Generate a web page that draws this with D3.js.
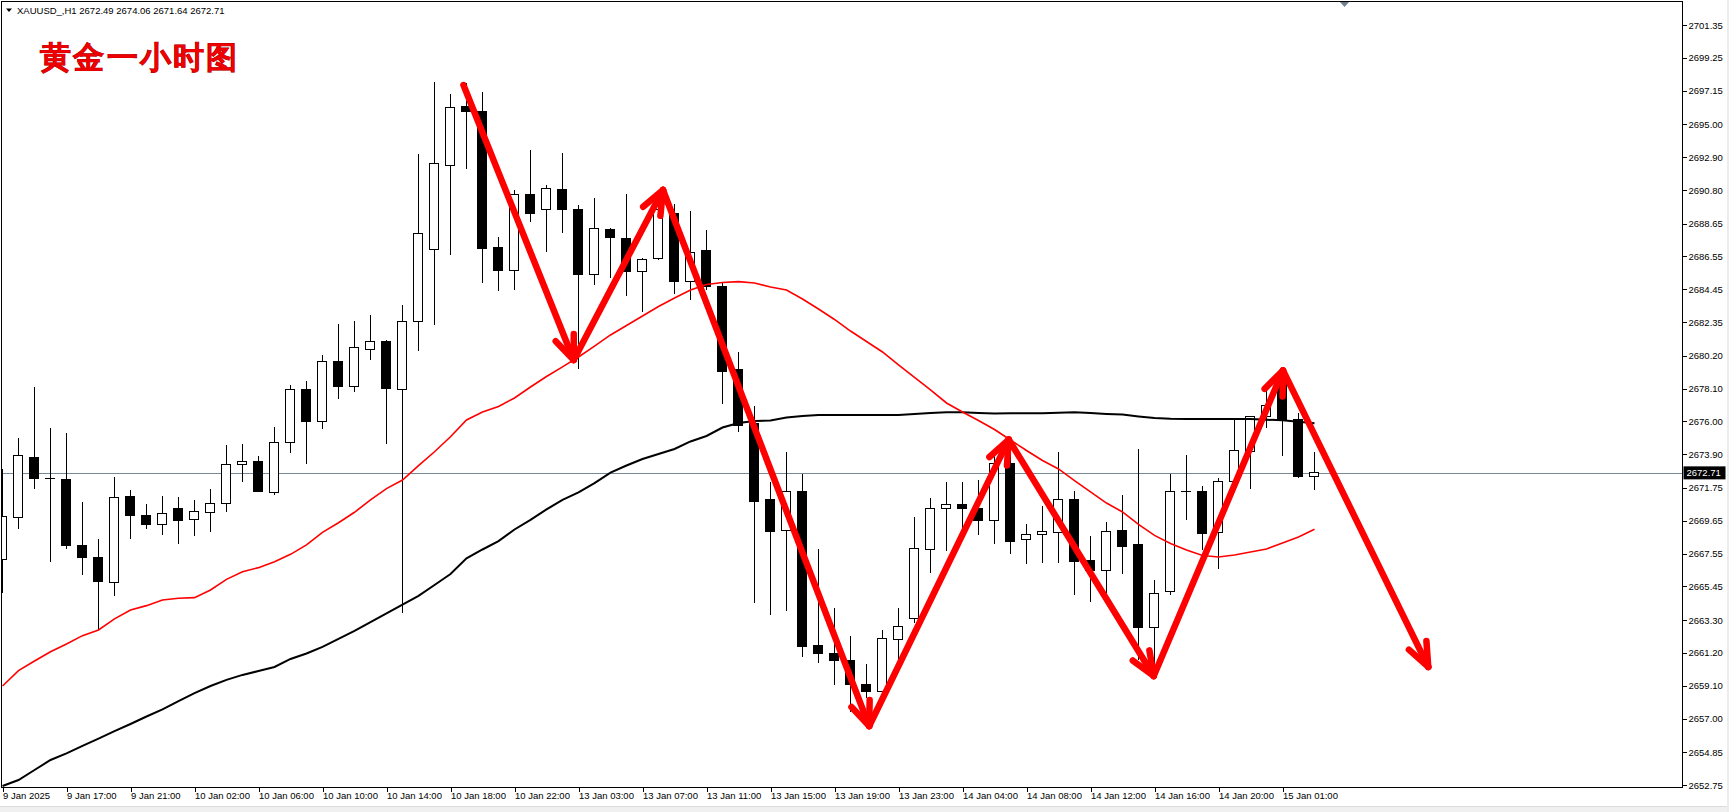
<!DOCTYPE html>
<html><head><meta charset="utf-8">
<script src="https://cdn.jsdelivr.net/npm/d3@7"></script>
<style>
html,body{margin:0;padding:0;background:#fff;overflow:hidden}
svg{display:block}
text{font-family:"Liberation Sans",Arial,sans-serif}
</style></head><body>
<svg id="c" width="1729" height="812"></svg>
<script>
// ---- data (XAUUSD H1, bars indexed 0..82) ----
const open=[2667.18,2669.87,2673.70,2672.35,2672.30,2668.08,2667.31,2665.71,2671.21,2669.99,
2669.40,2670.44,2669.74,2670.19,2670.76,2673.26,2673.45,2671.44,2674.66,2678.01,
2676.01,2679.80,2678.22,2680.61,2681.14,2678.05,2682.40,2687.01,2692.38,2696.17,
2695.85,2687.13,2685.64,2690.52,2689.57,2690.86,2689.58,2685.41,2688.29,2687.71,
2685.60,2686.43,2689.31,2684.96,2686.90,2684.62,2679.29,2675.88,2670.98,2669.01,
2671.55,2661.64,2661.17,2660.74,2659.15,2658.72,2662.07,2663.41,2667.82,2670.44,
2670.70,2670.44,2669.65,2673.32,2668.42,2668.78,2668.88,2670.98,2667.08,2666.46,
2669.04,2668.10,2662.84,2665.14,2671.53,2671.53,2668.91,2672.17,2674.09,2676.30,
2678.44,2676.14,2672.49];
const high=[2672.94,2674.94,2678.18,2675.58,2675.24,2670.85,2668.48,2672.45,2671.62,2670.72,
2671.23,2671.17,2670.98,2671.68,2674.49,2674.56,2673.79,2675.67,2678.33,2678.59,
2680.25,2682.23,2682.42,2682.81,2681.21,2683.45,2693.08,2697.72,2696.94,2697.66,
2697.07,2687.77,2690.80,2693.36,2691.10,2693.17,2689.84,2690.29,2688.35,2690.54,
2686.43,2689.97,2689.90,2689.46,2688.24,2684.83,2680.42,2676.99,2672.15,2674.06,
2672.64,2667.84,2664.05,2662.28,2660.49,2662.66,2664.05,2669.91,2671.08,2672.11,
2672.11,2672.26,2674.06,2674.17,2669.44,2670.59,2674.06,2671.57,2668.67,2669.59,
2671.29,2674.24,2665.86,2672.62,2673.85,2671.87,2672.36,2676.14,2676.30,2678.01,
2679.29,2676.54,2674.06];
const low=[2665.01,2669.14,2671.70,2667.03,2667.82,2666.20,2662.66,2664.86,2668.50,2669.14,
2668.76,2668.16,2668.67,2668.93,2670.23,2672.15,2671.51,2671.30,2674.00,2673.30,
2675.54,2677.46,2677.90,2679.93,2674.56,2663.73,2680.52,2682.17,2686.64,2692.16,
2684.87,2684.36,2684.40,2688.77,2686.85,2688.07,2679.33,2684.71,2685.15,2684.04,
2683.02,2686.32,2684.15,2683.77,2684.40,2677.11,2675.34,2664.37,2663.62,2663.90,
2660.92,2660.57,2659.15,2657.44,2658.30,2658.70,2660.74,2663.09,2666.33,2667.71,
2669.06,2668.74,2668.16,2667.52,2666.88,2666.97,2666.97,2664.90,2664.47,2665.01,
2666.24,2660.74,2660.11,2664.90,2669.70,2667.78,2666.56,2672.15,2671.66,2675.60,
2673.79,2672.36,2671.64];
const close=[2669.91,2673.83,2672.34,2672.30,2668.06,2667.31,2665.75,2671.15,2669.97,2669.40,
2670.12,2669.65,2670.25,2670.76,2673.26,2673.43,2671.51,2674.66,2678.05,2675.98,
2679.84,2678.22,2680.74,2681.12,2678.10,2682.40,2688.03,2692.51,2696.09,2695.81,
2687.05,2685.64,2690.52,2689.28,2690.91,2689.54,2685.38,2688.35,2687.77,2685.57,
2686.37,2689.52,2684.94,2686.82,2684.62,2679.18,2675.73,2670.87,2668.95,2671.55,
2661.60,2661.17,2660.70,2659.15,2658.72,2662.13,2662.87,2667.89,2670.44,2670.66,
2670.42,2669.65,2673.32,2668.31,2668.78,2668.95,2670.98,2667.03,2666.46,2668.99,
2667.99,2662.84,2665.01,2671.53,2671.53,2668.85,2672.17,2674.11,2676.30,2677.03,
2676.05,2672.47,2672.71];
const maRed=[2659.08,2660.06,2660.68,2661.27,2661.77,2662.30,2662.66,2663.37,2663.94,2664.22,
2664.58,2664.69,2664.73,2665.22,2665.90,2666.39,2666.65,2667.03,2667.50,2668.10,
2668.91,2669.52,2670.19,2670.98,2671.70,2672.25,2673.17,2674.06,2675.02,2676.09,
2676.60,2676.95,2677.50,2678.20,2678.87,2679.49,2680.12,2680.82,2681.53,2682.13,
2682.74,2683.35,2683.89,2684.40,2684.76,2684.88,2684.94,2684.85,2684.60,2684.40,
2683.83,2683.19,2682.52,2681.78,2681.11,2680.44,2679.61,2678.81,2678.01,2677.18,
2676.60,2676.06,2675.48,2674.81,2674.14,2673.50,2672.96,2672.22,2671.49,2670.78,
2670.21,2669.41,2668.71,2668.19,2667.78,2667.43,2667.33,2667.46,2667.65,2667.84,
2668.23,2668.61,2669.10];
const maBlack=[2652.69,2653.07,2653.71,2654.35,2654.77,2655.25,2655.72,2656.20,2656.65,2657.13,
2657.58,2658.12,2658.63,2659.08,2659.47,2659.79,2660.04,2660.30,2660.81,2661.16,
2661.58,2662.09,2662.60,2663.17,2663.72,2664.29,2664.84,2665.54,2666.24,2667.24,
2667.81,2668.35,2669.09,2669.70,2670.37,2670.98,2671.46,2672.06,2672.73,2673.18,
2673.60,2673.92,2674.24,2674.72,2675.07,2675.61,2675.90,2676.03,2676.06,2676.25,
2676.35,2676.41,2676.41,2676.41,2676.41,2676.41,2676.41,2676.48,2676.54,2676.58,
2676.58,2676.54,2676.51,2676.52,2676.52,2676.52,2676.56,2676.58,2676.54,2676.48,
2676.44,2676.32,2676.22,2676.17,2676.16,2676.16,2676.16,2676.16,2676.16,2676.11,
2676.07,2675.98,2675.88];
const xTickLabels=["9 Jan 2025","9 Jan 17:00","9 Jan 21:00","10 Jan 02:00","10 Jan 06:00","10 Jan 10:00",
"10 Jan 14:00","10 Jan 18:00","10 Jan 22:00","13 Jan 03:00","13 Jan 07:00","13 Jan 11:00","13 Jan 15:00",
"13 Jan 19:00","13 Jan 23:00","14 Jan 04:00","14 Jan 08:00","14 Jan 12:00","14 Jan 16:00","14 Jan 20:00","15 Jan 01:00"];
const xTickIdx=[0,4,8,12,16,20,24,28,32,36,40,44,48,52,56,60,64,68,72,76,80];
const yTicks=[2701.35,2699.25,2697.15,2695.00,2692.90,2690.80,2688.65,2686.55,2684.45,2682.35,2680.20,
2678.10,2676.00,2673.90,2671.75,2669.65,2667.55,2665.45,2663.30,2661.20,2659.10,2657.00,2654.85,2652.75];
// hand-drawn arrows: (bar index, price) of each turning point
const arrowIdx=[28.81,35.70,41.28,54.17,62.89,71.95,80.03,89.11];
const arrowPrice=[2697.51,2679.93,2690.80,2656.52,2674.84,2659.72,2679.26,2660.30];
const symbol="XAUUSD_,H1";
const title="黄金一小时图";

// ---- drawing ----
const svg=d3.select("#c");
const n=close.length;
const x=d3.scaleLinear().domain([0,n-1]).range([2.5,2.5+16*(n-1)]);
const y=d3.scaleLinear().domain([2652.75,2701.35]).range([785,25]);
const R=1682.5, B=787.5;

// window chrome
svg.append("rect").attr("x",0).attr("y",0).attr("width",1729).attr("height",812).attr("fill","#fff");
svg.append("rect").attr("x",0).attr("y",806).attr("width",1729).attr("height",6).attr("fill","#f0f0f0");
svg.append("line").attr("x1",0).attr("x2",1729).attr("y1",806.5).attr("y2",806.5).attr("stroke","#dcdcdc");
svg.append("rect").attr("x",1727).attr("y",0).attr("width",2).attr("height",812).attr("fill","#ececec");

svg.append("clipPath").attr("id","pc").append("rect").attr("x",2).attr("y",2).attr("width",R-2.5).attr("height",B-2.5);
const g=svg.append("g").attr("clip-path","url(#pc)");

// bid line
const lastY=y(close[n-1]);
g.append("line").attr("x1",2).attr("x2",R).attr("y1",Math.round(lastY)+0.5).attr("y2",Math.round(lastY)+0.5)
 .attr("stroke","#778899").attr("stroke-width",1);

// candles
const cg=g.append("g").attr("shape-rendering","crispEdges");
d3.range(n).forEach(i=>{
  const cx=x(i);
  cg.append("line").attr("x1",cx).attr("x2",cx).attr("y1",y(high[i])).attr("y2",y(low[i])).attr("stroke","#000");
  const yo=y(open[i]), yc=y(close[i]);
  const up=close[i]>=open[i];
  if(Math.abs(yo-yc)<1){
    cg.append("line").attr("x1",cx-5.5).attr("x2",cx+4.5).attr("y1",yo).attr("y2",yo).attr("stroke","#000");
  } else {
    cg.append("rect").attr("x",cx-5).attr("y",Math.min(yo,yc)).attr("width",9).attr("height",Math.abs(yo-yc))
      .attr("fill",up?"#fff":"#000").attr("stroke","#000").attr("stroke-width",1);
  }
});

// moving averages
const line=d3.line().x((d,i)=>x(i)).y(d=>y(d));
g.append("path").datum(maBlack).attr("d",line).attr("fill","none").attr("stroke","#000").attr("stroke-width",2);
g.append("path").datum(maRed).attr("d",line).attr("fill","none").attr("stroke","#ff0000").attr("stroke-width",1.6);

// arrows
const ag=g.append("g").attr("stroke","#ff0000").attr("stroke-width",6.5).attr("stroke-linecap","round").attr("fill","none");
for(let k=0;k<arrowIdx.length-1;k++){
  const x0=x(arrowIdx[k]), y0=y(arrowPrice[k]), x1=x(arrowIdx[k+1]), y1=y(arrowPrice[k+1]);
  ag.append("line").attr("x1",x0).attr("y1",y0).attr("x2",x1).attr("y2",y1);
  const a=Math.atan2(y0-y1,x0-x1), L=26, s=22*Math.PI/180;
  [a+s,a-s].forEach(t=>{
    ag.append("line").attr("x1",x1).attr("y1",y1).attr("x2",x1+L*Math.cos(t)).attr("y2",y1+L*Math.sin(t));
  });
}

// frame
svg.append("rect").attr("x",1.5).attr("y",1.5).attr("width",R-1.5).attr("height",B-1.5)
  .attr("fill","none").attr("stroke","#000").attr("shape-rendering","crispEdges");

// y axis
const yAxis=svg.append("g").attr("transform",`translate(${R},0)`)
  .call(d3.axisRight(y).tickValues(yTicks).tickSize(4).tickPadding(2).tickFormat(d3.format(".2f")));
yAxis.select(".domain").remove();
yAxis.selectAll("line").attr("shape-rendering","crispEdges");
yAxis.selectAll("text").attr("font-family","Liberation Sans, Arial, sans-serif").attr("font-size",9.5).attr("fill","#000");

// x axis
const xAxis=svg.append("g").attr("transform",`translate(0,${B})`)
  .call(d3.axisBottom(x).tickValues(xTickIdx).tickSize(4).tickPadding(1).tickFormat((d,i)=>xTickLabels[i]));
xAxis.select(".domain").remove();
xAxis.selectAll("line").attr("shape-rendering","crispEdges");
xAxis.selectAll("text").attr("text-anchor","start").attr("x",0).attr("font-family","Liberation Sans, Arial, sans-serif")
  .attr("font-size",9.5).attr("fill","#000");

// current price label
svg.append("rect").attr("x",R+1).attr("y",lastY-6.5).attr("width",42).attr("height",13).attr("fill","#000");
svg.append("text").attr("x",R+4).attr("y",lastY).attr("dy","0.35em").attr("font-size",9.5).attr("fill","#fff")
  .text(close[n-1].toFixed(2));

// header
svg.append("path").attr("d","M6,8.5 L12,8.5 L9,12 Z").attr("fill","#000");
svg.append("text").attr("x",17).attr("y",13.5).attr("font-size",9.5).attr("fill","#000")
  .text(`${symbol}  ${open[n-1].toFixed(2)} ${high[n-1].toFixed(2)} ${low[n-1].toFixed(2)} ${close[n-1].toFixed(2)}`);

// chart shift marker
svg.append("path").attr("d","M1340,2 L1349,2 L1344.5,7 Z").attr("fill","#708090");

// title
svg.append("text").attr("x",40).attr("y",68).attr("font-family","Noto Sans CJK SC, sans-serif")
  .attr("font-weight","900").attr("font-size",31).attr("letter-spacing",2.3).attr("fill","#f00000")
  .style("paint-order","stroke").attr("stroke","#8a0000").attr("stroke-width",0.6).text(title);
</script>
</body></html>
